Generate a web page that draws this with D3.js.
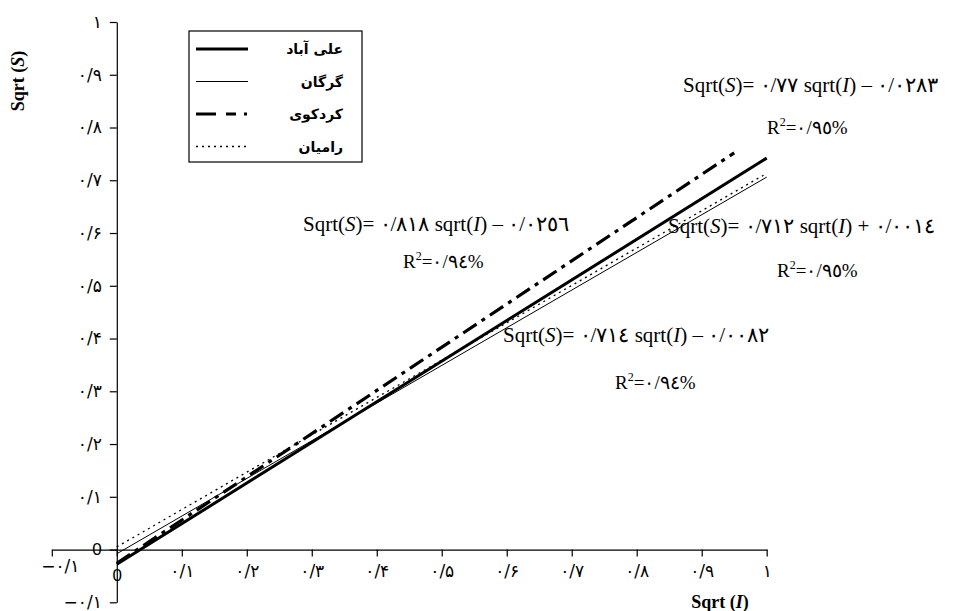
<!DOCTYPE html>
<html>
<head>
<meta charset="utf-8">
<script src="https://cdn.jsdelivr.net/npm/d3@7"></script>
<style>
  html, body { margin: 0; padding: 0; background: #fff; }
  svg { display: block; }
</style>
</head>
<body>
<svg id="chart" width="957" height="611"></svg>
<script>
// ---- data ----
const seriesNames = ["علی آباد", "گرگان", "کردکوی", "رامیان"];
const seriesStartX = [0, 0, 0, 0];
const seriesStartY = [-0.028, -0.008, -0.026, 0.005];
const seriesEndX   = [1, 1, 0.95, 1];
const seriesEndY   = [0.742, 0.706, 0.752, 0.713];

const xTickValues = [-0.1, 0, 0.1, 0.2, 0.3, 0.4, 0.5, 0.6, 0.7, 0.8, 0.9, 1];
const xTickLabels = ["−۰/۱", "0", "۰/۱", "۰/۲", "۰/۳", "۰/۴", "۰/۵", "۰/۶", "۰/۷", "۰/۸", "۰/۹", "۱"];
const yTickValues = [-0.1, 0, 0.1, 0.2, 0.3, 0.4, 0.5, 0.6, 0.7, 0.8, 0.9, 1];
const yTickLabels = ["−۰/۱", "0", "۰/۱", "۰/۲", "۰/۳", "۰/۴", "۰/۵", "۰/۶", "۰/۷", "۰/۸", "۰/۹", "۱"];

// equation annotations: slope text, sign, intercept text, R² text
const eqSlopes     = ["٠/٧٧", "٠/٨١٨", "٠/٧١٢", "٠/٧١٤"];
const eqSigns      = ["–", "–", "+", "–"];
const eqIntercepts = ["٠/٠٢٨٣", "٠/٠٢٥٦", "٠/٠٠١٤", "٠/٠٠٨٢"];
const eqR2         = ["٠/٩٥%", "٠/٩٤%", "٠/٩٥%", "٠/٩٤%"];
// ---- end data ----

const eqPos = [   // [eq left x, eq baseline, r2 left x, r2 baseline]
  [683, 92, 767, 134],
  [303, 231, 403, 268],
  [668, 233, 777, 277],
  [503, 342, 615, 389]
];

const styles = [
  { w: 3,   dash: null },
  { w: 1,   dash: null },
  { w: 3.2, dash: "16,6,4,6" },
  { w: 1.3, dash: "2,4" }
];

const svg = d3.select("#chart");
const x = d3.scaleLinear().domain([-0.1, 1]).range([51.8, 766.7]);
const y = d3.scaleLinear().domain([-0.1, 1]).range([602.3, 22]);

const labelFont = "'DejaVu Sans', sans-serif";
const serif = "'Liberation Serif', 'Times New Roman', serif";

// x axis at y=0
const xAxis = d3.axisBottom(x)
  .tickValues(xTickValues)
  .tickFormat((d, i) => xTickLabels[i])
  .tickSize(7).tickSizeOuter(0).tickPadding(8);
const gx = svg.append("g").attr("transform", `translate(0,${y(0)})`).call(xAxis);
gx.select(".domain").attr("stroke", "#000").attr("stroke-width", 1.2);
gx.selectAll(".tick line").attr("stroke", "#000").attr("stroke-width", 1.2);
gx.selectAll(".tick text")
  .attr("font-family", labelFont).attr("font-size", 17).attr("fill", "#000");
gx.selectAll(".tick").filter(d => d === 0).select("text")
  .attr("font-family", "'Liberation Sans', Arial, sans-serif").attr("font-size", 17).attr("dy", "0.95em");
gx.selectAll(".tick").filter(d => d === -0.1).select("text").attr("dx", 8).attr("y", 10);

// y axis at x=0
const yAxis = d3.axisLeft(y)
  .tickValues(yTickValues)
  .tickFormat((d, i) => yTickLabels[i])
  .tickSize(7).tickSizeOuter(0).tickPadding(8);
const gy = svg.append("g").attr("transform", `translate(${x(0)},0)`).call(yAxis);
gy.select(".domain").attr("stroke", "#000").attr("stroke-width", 1.2);
gy.selectAll(".tick line").attr("stroke", "#000").attr("stroke-width", 1.2);
gy.selectAll(".tick text")
  .attr("font-family", labelFont).attr("font-size", 17).attr("fill", "#000");
gy.selectAll(".tick").filter(d => d === 0).select("text")
  .attr("font-family", "'Liberation Sans', Arial, sans-serif").attr("font-size", 17);

// series lines
const line = d3.line().x(d => x(d[0])).y(d => y(d[1]));
seriesNames.forEach((name, i) => {
  const pts = [[seriesStartX[i], seriesStartY[i]], [seriesEndX[i], seriesEndY[i]]];
  svg.append("path")
    .attr("d", line(pts))
    .attr("fill", "none")
    .attr("stroke", "#000")
    .attr("stroke-width", styles[i].w)
    .attr("stroke-dasharray", styles[i].dash);
});

// legend
const lg = svg.append("g");
lg.append("rect").attr("x", 189).attr("y", 31).attr("width", 173).attr("height", 131)
  .attr("fill", "#fff").attr("stroke", "#000").attr("stroke-width", 1.2);
const rowY = [49, 81.5, 114, 146.5];
seriesNames.forEach((name, i) => {
  lg.append("line").attr("x1", 196).attr("x2", 248).attr("y1", rowY[i]).attr("y2", rowY[i])
    .attr("stroke", "#000").attr("stroke-width", styles[i].w)
    .attr("stroke-dasharray", i === 2 ? "20,10,10,8,3" : styles[i].dash);
  lg.append("text").attr("x", 343).attr("y", rowY[i] + 5)
    .attr("text-anchor", "end").attr("font-family", labelFont)
    .attr("font-weight", "bold").attr("font-size", 14).text(name);
});

// equations
eqSlopes.forEach((s, i) => {
  const p = eqPos[i];
  const t = svg.append("text").attr("x", p[0]).attr("y", p[1])
    .attr("font-family", serif).attr("font-size", 21).attr("fill", "#000");
  t.append("tspan").text("Sqrt(");
  t.append("tspan").attr("font-style", "italic").text("S");
  t.append("tspan").text(")= ");
  t.append("tspan").text(s);
  t.append("tspan").text(" sqrt(");
  t.append("tspan").attr("font-style", "italic").text("I");
  t.append("tspan").text(") " + eqSigns[i] + " ");
  t.append("tspan").text(eqIntercepts[i]);

  const r = svg.append("text").attr("x", p[2]).attr("y", p[3])
    .attr("font-family", serif).attr("font-size", 19).attr("fill", "#000");
  r.append("tspan").text("R");
  r.append("tspan").attr("font-size", 12).attr("dy", -8).text("2");
  r.append("tspan").attr("dy", 8).text("=" + eqR2[i]);
});

// axis titles
const yt = svg.append("text").attr("transform", "translate(24,81) rotate(-90)")
  .attr("text-anchor", "middle").attr("font-family", serif)
  .attr("font-weight", "bold").attr("font-size", 18);
yt.append("tspan").text("Sqrt (");
yt.append("tspan").attr("font-style", "italic").text("S");
yt.append("tspan").text(")");

const xt = svg.append("text").attr("x", 720).attr("y", 608)
  .attr("text-anchor", "middle").attr("font-family", serif)
  .attr("font-weight", "bold").attr("font-size", 18);
xt.append("tspan").text("Sqrt (");
xt.append("tspan").attr("font-style", "italic").text("I");
xt.append("tspan").text(")");
</script>
</body>
</html>
